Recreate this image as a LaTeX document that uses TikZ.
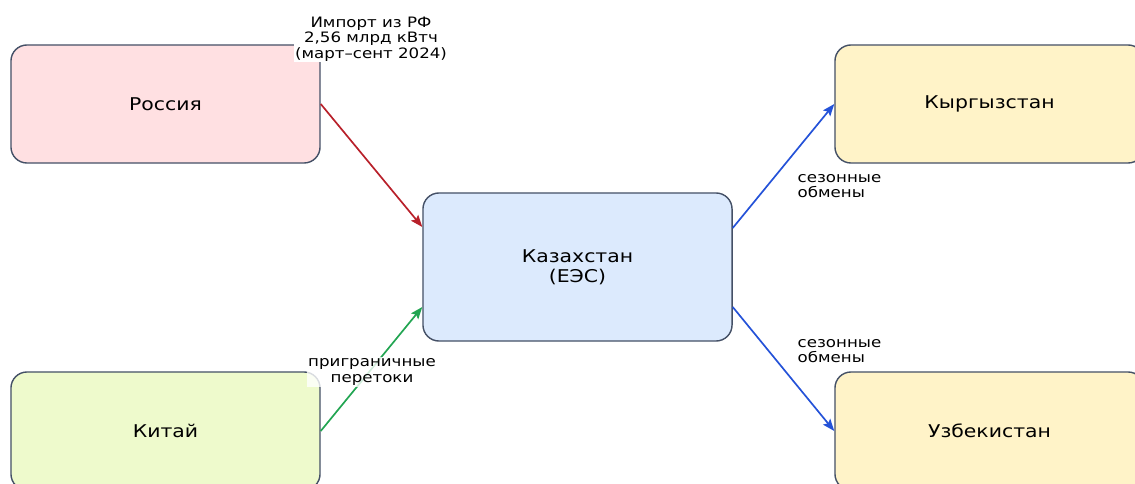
\documentclass[tikz,border=0pt]{standalone}
\usepackage{fontspec}
\setmainfont{DejaVu Sans}[FakeStretch=1.16]
\usetikzlibrary{arrows.meta}

\definecolor{edgegray}{HTML}{445066}
\definecolor{ruspink}{HTML}{FFE0E2}
\definecolor{kazblue}{HTML}{DCEAFD}
\definecolor{neighyellow}{HTML}{FFF3C8}
\definecolor{chngreen}{HTML}{EEFACC}
\definecolor{impred}{HTML}{B8202A}
\definecolor{crossgreen}{HTML}{22A552}
\definecolor{seasblue}{HTML}{2452D8}

\begin{document}
\begin{tikzpicture}[x=0.025cm, y=-0.025cm,
    region/.style={draw=edgegray, line width=1pt, rounded corners=0.4cm,
        minimum width=7.725cm, inner sep=0pt, align=center,
        font=\fontsize{12.5}{14}\selectfont},
    flow/.style={-{Stealth[length=8.5pt,width=6.5pt,inset=1.5pt]}, line width=1.2pt},
    note/.style={font=\fontsize{10.2}{10.9}\selectfont, align=center, inner sep=1pt}]

    \useasboundingbox (0,0) rectangle (1135,484);

    % regions
    \node[region, fill=ruspink, minimum height=2.95cm] (rus) at (165.5,104) {Россия};
    \node[region, fill=kazblue, minimum height=3.7cm] (kaz) at (577.5,267) {Казахстан\\(ЕЭС)};
    \node[region, fill=neighyellow, minimum height=2.95cm] (kgz) at (989.5,104) {Кыргызстан};
    \node[region, fill=chngreen, minimum height=2.95cm] (chn) at (165.5,431) {Китай};
    \node[region, fill=neighyellow, minimum height=2.95cm] (uzb) at (989.5,431) {Узбекистан};

    \coordinate (kazNW) at ([yshift=1cm]kaz.west);
    \coordinate (kazSW) at ([yshift=-1cm]kaz.west);
    \coordinate (kazNE) at ([yshift=0.975cm]kaz.east);
    \coordinate (kazSE) at ([yshift=-1cm]kaz.east);

    % flows
    \draw[flow, impred] (rus.east) -- (kazNW);
    \draw[flow, crossgreen] (chn.east) -- (kazSW);
    \draw[flow, seasblue] (kazNE) -- (kgz.west);
    \draw[flow, seasblue] (kazSE) -- (uzb.west);

    % labels
    \node[note, fill=white] (imp) at (371,39) {Импорт из РФ\\2,56 млрд кВтч\\(март–сент 2024)};
    \node[note, fill=white, fill opacity=0.8, text opacity=1] (cross) at (372,372) {приграничные\\перетоки};
    \node[note, align=left, anchor=west] (seasN) at (796,186) {сезонные\\обмены};
    \node[note, align=left, anchor=west] (seasS) at (796,351) {сезонные\\обмены};

\end{tikzpicture}
\end{document}
